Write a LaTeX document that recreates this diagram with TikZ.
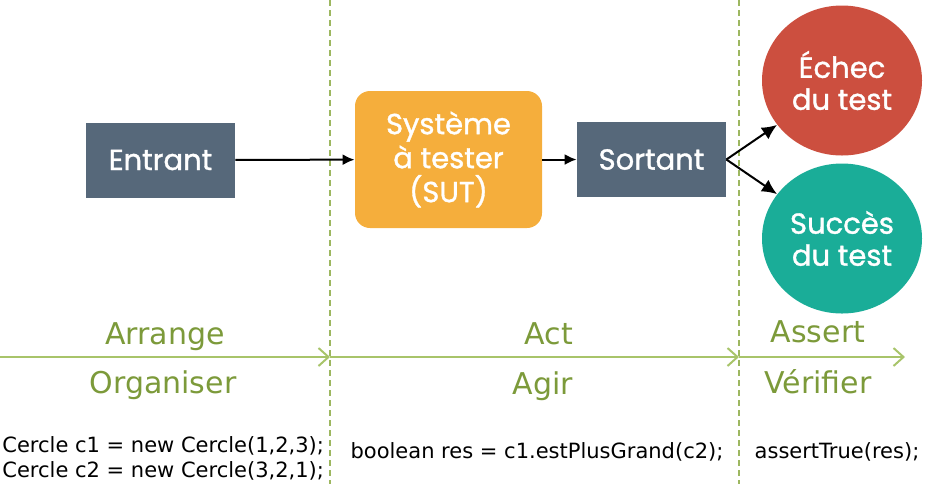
\documentclass[tikz,border=0pt]{standalone}
\usepackage{fontspec}
\setmainfont{DejaVu Sans}
\newfontfamily\boxfont{Poppins}[FakeBold=1.2]
\usetikzlibrary{positioning,shapes.geometric,arrows.meta}

\definecolor{slate}{HTML}{56687A}
\definecolor{sutorange}{HTML}{F5AE3C}
\definecolor{failred}{HTML}{CC4F3F}
\definecolor{passteal}{HTML}{1AAD98}
\definecolor{lineGreen}{HTML}{A8C46A}
\definecolor{dashGreen}{HTML}{9DB760}
\definecolor{textGreen}{HTML}{7C9A3A}

\begin{document}
\begin{tikzpicture}[x=0.5pt,y=-0.5pt,
		box/.style={fill=slate,text=white,minimum width=74.5pt,minimum height=37.5pt,inner sep=0pt,font=\boxfont\fontsize{14.5}{17}\selectfont},
		result/.style={ellipse,text=white,minimum width=80pt,minimum height=75pt,inner sep=0pt,align=center,font=\boxfont\fontsize{14.5}{16}\selectfont},
		phase/.style={anchor=base,text=textGreen,font=\fontsize{15}{18}\selectfont},
		code/.style={anchor=base,font=\fontsize{10.5}{12.5}\selectfont},
		flow/.style={-{Latex[length=6pt,width=5.5pt]},line width=1pt},
		fork/.style={-{Latex[length=7.5pt,width=7pt]},line width=1pt}]
			\useasboundingbox (0,0) rectangle (926,484);
			
			\foreach \x in {330,739} {\draw[dashGreen,line width=0.75pt,dash pattern=on 3pt off 2pt] (\x,0) -- (\x,484);}
			
			\coordinate (start) at (0,357);
			\coordinate (stepA) at (330,357);
			\coordinate (stepB) at (739,357);
			\coordinate (stepC) at (905,357);
			\draw[lineGreen,line width=1pt,-{Straight Barb[length=5pt,width=9pt]}] (start) -- (stepA);
			\draw[lineGreen,line width=1pt,-{Straight Barb[length=5pt,width=9pt]}] (stepA) -- (stepB);
			\draw[lineGreen,line width=1pt,-{Straight Barb[length=5pt,width=9pt]}] (stepB) -- (stepC);
			
			\node[box] (entrant) at (160.5,160) {Entrant};
			\node[box,fill=sutorange,minimum width=93.5pt,minimum height=68.5pt,rounded corners=7.5pt,align=center] (sut) at (448.5,159.5) {Système\\à tester\\(SUT)};
			\node[box] (sortant) at (651.5,159.5) {Sortant};
			\node[result,fill=failred] (echec) at (842,80.5) {Échec\\du test};
			\node[result,fill=passteal] (succes) at (842,238.5) {Succès\\du test};
			
			\draw[flow] (entrant) -- (sut);
			\draw[flow] (sut) -- (sortant);
			\draw[fork] (sortant.east) -- (echec);
			\draw[fork] (sortant.east) -- (succes);
			
			\node[phase] (arrange) at (165,344) {Arrange};
			\node[phase] (organiser) at (163,393) {Organiser};
			\node[phase] (act) at (549,344) {Act};
			\node[phase] (agir) at (543,394) {Agir};
			\node[phase] (assert) at (818,342) {Assert};
			\node[phase] (verifier) at (818,393) {Vérifier};
			
			\node[code,anchor=base west,inner sep=0pt] (arrangeA) at (2,452) {Cercle c1 = new Cercle(1,2,3);};
			\node[code,anchor=base west,inner sep=0pt] (arrangeB) at (2,477) {Cercle c2 = new Cercle(3,2,1);};
			\node[code] (actcode) at (537,458) {boolean res = c1.estPlusGrand(c2);};
			\node[code] (assertcode) at (837,458) {assertTrue(res);};
		\end{tikzpicture}
\end{document}
